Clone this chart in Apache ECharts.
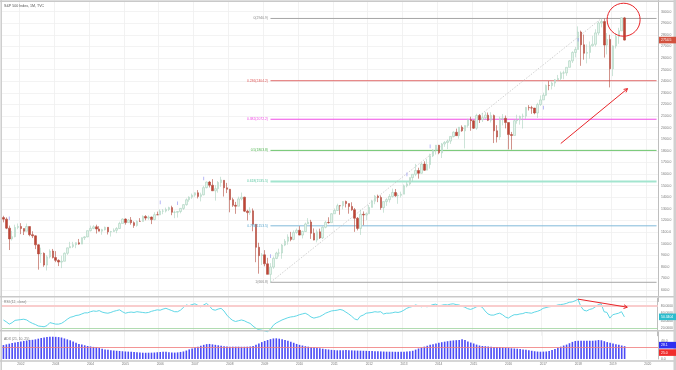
<!DOCTYPE html>
<html><head><meta charset="utf-8">
<script src="https://cdn.jsdelivr.net/npm/echarts@6/dist/echarts.min.js"></script>
<style>html,body{margin:0;padding:0;background:#fff}#c{width:676px;height:370px}</style>
</head><body><div id="c"></div>
<script>
// ---------- categories (monthly bars, Jul 2001 .. Apr 2020) ----------
const months = [];
for (let y = 2001; y <= 2020; y++) for (let m = 1; m <= 12; m++) {
  if ((y === 2001 && m < 7) || (y === 2020 && m > 4)) continue;
  months.push(y + '-' + (m < 10 ? '0' + m : m));
}
// ---------- S&P 500 monthly bars [open, high, low, close] ----------
const ohlc = [
[1224.4,1239.8,1183.5,1211.2],[1211.2,1226.3,1124.9,1133.6],[1133.6,1155.4,944.8,1040.9],[1040.9,1110.6,1026.8,1059.8],[1059.8,1163.4,1054.3,1139.5],[1139.5,1173.6,1124.0,1148.1],
[1148.1,1176.6,1081.7,1130.2],[1130.2,1130.2,1074.4,1106.7],[1106.7,1173.0,1106.7,1147.4],[1147.4,1147.8,1063.5,1076.9],[1076.9,1106.6,1048.0,1067.1],[1067.1,1070.7,952.9,989.8],[989.8,994.5,775.7,911.6],[911.6,965.0,833.4,916.1],[916.1,924.0,800.2,815.3],[815.3,900.1,768.6,885.8],[885.8,951.6,872.1,936.3],[936.3,954.3,872.2,879.8],
[879.8,935.1,840.3,855.7],[855.7,864.6,806.3,841.2],[841.2,895.9,788.9,848.2],[848.2,924.2,847.8,916.9],[916.9,965.4,902.8,963.6],[963.6,1015.3,963.6,974.5],[974.5,1015.4,962.1,990.3],[990.3,1011.0,960.8,1008.0],[1008.0,1040.3,990.4,996.0],[996.0,1053.8,996.0,1050.7],[1050.7,1063.7,1031.2,1058.2],[1058.2,1112.6,1055.5,1111.9],
[1111.9,1155.4,1105.1,1131.1],[1131.1,1158.9,1124.4,1144.9],[1144.9,1163.2,1087.2,1126.2],[1126.2,1150.6,1107.2,1107.3],[1107.3,1127.7,1076.3,1120.7],[1120.7,1146.3,1113.3,1140.8],[1140.8,1140.8,1078.8,1101.7],[1101.7,1109.7,1060.7,1104.2],[1104.2,1131.5,1101.3,1114.6],[1114.6,1142.1,1090.2,1130.2],[1130.2,1188.5,1127.6,1173.8],[1173.8,1217.9,1173.8,1211.9],
[1211.9,1217.8,1163.8,1181.3],[1181.3,1212.4,1180.0,1203.6],[1203.6,1229.1,1163.7,1180.6],[1180.6,1191.9,1136.2,1156.9],[1156.9,1199.6,1146.2,1191.5],[1191.5,1219.6,1188.3,1191.3],[1191.3,1243.7,1191.3,1234.2],[1234.2,1245.9,1201.1,1220.3],[1220.3,1243.1,1205.4,1228.8],[1228.8,1233.3,1168.2,1207.0],[1207.0,1270.6,1201.1,1249.5],[1249.5,1275.8,1246.6,1248.3],
[1248.3,1294.9,1245.7,1280.1],[1280.1,1297.6,1253.6,1280.7],[1280.7,1310.9,1268.4,1294.8],[1294.8,1318.2,1280.7,1310.6],[1310.6,1326.7,1245.3,1270.1],[1270.1,1284.6,1219.3,1270.2],[1270.2,1280.4,1224.5,1276.7],[1276.7,1306.8,1261.3,1303.8],[1303.8,1340.3,1290.9,1335.9],[1335.9,1389.5,1327.1,1377.9],[1377.9,1407.9,1360.9,1400.6],[1400.6,1431.8,1385.9,1418.3],
[1418.3,1441.6,1403.9,1438.2],[1438.2,1461.6,1389.4,1406.8],[1406.8,1438.9,1363.9,1420.9],[1420.9,1498.0,1416.4,1482.4],[1482.4,1535.6,1476.7,1530.6],[1530.6,1540.6,1484.2,1503.4],[1503.4,1555.9,1454.3,1455.3],[1455.3,1503.9,1370.6,1474.0],[1474.0,1538.7,1439.3,1526.8],[1526.8,1576.1,1489.6,1549.4],[1545.8,1545.8,1406.1,1481.1],[1481.1,1523.6,1435.7,1468.4],
[1468.4,1471.8,1270.1,1378.6],[1378.6,1396.0,1316.8,1330.6],[1330.6,1359.7,1256.9,1322.7],[1322.7,1404.6,1322.7,1385.6],[1385.6,1440.2,1373.1,1400.4],[1400.4,1404.1,1272.0,1280.0],[1280.0,1292.2,1200.4,1267.4],[1267.4,1313.2,1247.5,1282.8],[1282.8,1303.0,1106.4,1166.4],[1166.4,1167.0,839.8,968.8],[968.8,1007.5,741.0,896.2],[896.2,918.9,815.7,903.3],
[903.3,943.9,804.3,825.9],[825.9,877.9,734.5,735.1],[735.1,832.0,666.8,797.9],[797.9,888.7,783.3,872.8],[872.8,930.2,866.1,919.1],[919.1,956.2,888.9,919.3],[919.3,996.7,869.3,987.5],[987.5,1039.5,978.5,1020.6],[1020.6,1080.2,991.0,1057.1],[1057.1,1101.4,1020.2,1036.2],[1036.2,1113.7,1029.4,1095.6],[1095.6,1130.4,1085.9,1115.1],
[1115.1,1150.5,1071.6,1073.9],[1073.9,1112.4,1044.5,1104.5],[1104.5,1181.4,1101.4,1169.4],[1169.4,1219.8,1169.4,1186.7],[1186.7,1205.1,1040.8,1089.4],[1089.4,1131.2,1028.3,1030.7],[1030.7,1120.9,1010.9,1101.6],[1101.6,1129.2,1040.0,1049.3],[1049.3,1148.6,1039.7,1141.2],[1141.2,1196.1,1131.9,1183.3],[1183.3,1227.1,1173.0,1180.6],[1180.6,1262.6,1180.6,1257.6],
[1257.6,1302.7,1257.6,1286.1],[1286.1,1344.1,1282.9,1327.2],[1327.2,1332.3,1249.1,1325.8],[1325.8,1364.6,1294.7,1363.6],[1363.6,1370.6,1311.8,1345.2],[1345.2,1345.2,1258.1,1320.6],[1320.6,1356.5,1282.9,1292.3],[1292.3,1307.4,1101.5,1218.9],[1218.9,1229.3,1114.2,1131.4],[1131.4,1292.7,1074.8,1253.3],[1253.3,1277.6,1158.7,1247.0],[1247.0,1269.4,1202.4,1257.6],
[1257.6,1333.5,1257.6,1312.4],[1312.4,1378.0,1312.4,1365.7],[1365.7,1419.2,1340.0,1408.5],[1408.5,1422.4,1357.4,1397.9],[1397.9,1415.3,1291.9,1310.3],[1310.3,1363.5,1266.7,1362.2],[1362.2,1391.7,1325.4,1379.3],[1379.3,1426.7,1354.7,1406.6],[1406.6,1474.5,1396.6,1440.7],[1440.7,1470.9,1403.3,1412.2],[1412.2,1434.3,1343.4,1416.2],[1416.2,1448.0,1398.1,1426.2],
[1426.2,1509.9,1426.2,1498.1],[1498.1,1530.9,1485.0,1514.7],[1514.7,1570.3,1501.5,1569.2],[1569.2,1597.6,1536.0,1597.6],[1597.6,1687.2,1581.3,1630.7],[1630.7,1654.2,1560.3,1606.3],[1606.3,1698.8,1604.6,1685.7],[1685.7,1709.7,1627.5,1633.0],[1633.0,1729.9,1633.0,1681.6],[1681.6,1775.2,1646.5,1756.5],[1756.5,1813.6,1746.2,1805.8],[1805.8,1849.4,1767.9,1848.4],
[1848.4,1850.8,1770.5,1782.6],[1782.6,1867.9,1737.9,1859.5],[1859.5,1883.9,1834.4,1872.3],[1872.3,1897.3,1814.4,1884.0],[1884.0,1924.0,1859.8,1923.6],[1923.6,1968.2,1915.4,1960.2],[1960.2,1991.4,1930.7,1930.7],[1930.7,2005.0,1904.8,2003.4],[2003.4,2019.3,1964.0,1972.3],[1972.3,2018.2,1821.0,2018.1],[2018.1,2075.8,2001.0,2067.6],[2067.6,2093.6,1972.6,2058.9],
[2058.9,2064.4,1988.1,1995.0],[1995.0,2119.6,1980.9,2104.5],[2104.5,2117.5,2039.7,2067.9],[2067.9,2125.9,2048.4,2085.5],[2085.5,2134.7,2067.9,2107.4],[2107.4,2129.9,2056.3,2063.1],[2063.1,2132.8,2044.0,2103.8],[2103.8,2112.7,1867.0,1972.2],[1972.2,2020.9,1871.9,1920.0],[1920.0,2094.3,1893.7,2079.4],[2079.4,2116.5,2019.4,2080.4],[2080.4,2104.3,1993.3,2043.9],
[2043.9,2043.9,1812.3,1940.2],[1940.2,1962.9,1810.1,1932.2],[1932.2,2072.2,1932.2,2059.7],[2059.7,2111.1,2033.8,2065.3],[2065.3,2103.5,2025.9,2097.0],[2097.0,2120.6,1991.7,2098.9],[2098.9,2177.1,2074.0,2173.6],[2173.6,2193.8,2147.6,2171.0],[2171.0,2187.9,2119.1,2168.3],[2168.3,2169.6,2114.7,2126.2],[2126.2,2214.1,2083.8,2198.8],[2198.8,2277.5,2187.4,2238.8],
[2238.8,2301.0,2238.8,2278.9],[2278.9,2371.5,2271.7,2363.6],[2363.6,2401.0,2322.3,2362.7],[2362.7,2398.2,2328.9,2384.2],[2384.2,2418.7,2352.7,2411.8],[2411.8,2454.0,2405.7,2423.4],[2423.4,2484.0,2407.7,2470.3],[2470.3,2491.0,2417.4,2471.7],[2471.7,2519.4,2446.6,2519.4],[2519.4,2582.0,2519.4,2575.3],[2575.3,2657.7,2557.5,2647.6],[2647.6,2695.0,2605.5,2673.6],
[2673.6,2872.9,2673.6,2823.8],[2823.8,2835.9,2532.7,2713.8],[2713.8,2801.9,2585.9,2640.9],[2640.9,2717.5,2553.8,2648.1],[2648.1,2742.2,2594.6,2705.3],[2705.3,2791.5,2698.7,2718.4],[2718.4,2848.0,2698.9,2816.3],[2816.3,2916.5,2796.3,2901.5],[2901.5,2940.9,2864.1,2914.0],[2914.0,2939.9,2603.5,2711.7],[2711.7,2815.2,2631.1,2760.2],[2760.2,2800.2,2346.6,2506.9],
[2506.9,2708.0,2443.9,2704.1],[2704.1,2813.5,2681.8,2784.5],[2784.5,2860.3,2722.3,2834.4],[2834.4,2949.5,2834.4,2945.8],[2945.8,2954.1,2750.5,2754.5]
];
// ---------- RSI (12, close) ----------
const rsi = [42,37,31,35,41,42,43,44,42,37,33,30,26,25,24,27,35,33,31,31,33,38,44,49,51,54,55,58,61,61,
64,66,65,67,63,61,60,62,65,67,69,64,60,62,63,62,64,63,62,61,62,65,67,69,68,71,73,70,67,64,
64,68,75,82,80,83,85,81,77,82,86,79,70,68,71,73,66,55,47,41,38,40,42,40,36,33,26,20,16,15,
13,11,17,28,34,38,42,45,48,50,51,53,56,58,60,56,50,47,49,51,55,60,63,66,67,68,70,68,63,58,
52,45,42,52,55,60,61,62,64,63,64,58,60,60,61,63,62,64,68,73,76,78,82,80,77,79,77,80,83,84,
80,81,83,82,84,85,83,82,79,76,72,70,73,77,79,76,66,58,55,55,58,60,56,50,47,52,56,56,58,59,
62,61,60,63,65,68,73,75,77,78,79,82,83,84,86,89,90,93,97,78,68,66,70,72,77,83,85,64,62,47,
56,58,60,64,50.34];
// ---------- ADX ----------
const adx = [30.5,32,33.5,35,36,37.5,38.5,39.5,40.5,41.5,42,43,44.5,46,47,48,48.5,48.8,48.5,48,47,45,43,41,38.5,35.5,33,31.5,30,28.5,
27.5,26.5,25.5,24,22.5,21,20,19.2,18.6,18,17.5,17,16.5,16.2,16,15.4,14.8,14.2,13.8,13.7,13.8,13.9,14.2,14.8,15.4,15.8,16,15,14,14,
14.5,15.5,16.5,18.5,21,23,25,27,29,31,32.5,33,32,31,30,29,28,27.5,27,27,27,27,26.8,26.8,27,27.5,28.5,31,34,37,
39.5,41.5,43.5,45,45.3,44.5,43,41.5,40,38,35.5,33,31,29.5,28,27,26,25,24,23.4,22.5,21.5,20.8,20,19.5,19,19,19.3,19.5,19.2,
18.9,18.6,18.4,18.2,18,17.8,17.6,17.5,17.2,16.9,16.6,16.3,16.1,16,15.9,15.8,15.8,15.9,16,16.2,16.8,18,20.5,23,25,27,29,31,32.5,34,
35.5,36.8,38,39,40,40.7,41.2,41.6,43,41.5,38.5,36,34,31.5,29.5,28.5,28,27.3,26.8,26.4,26,25.5,25,24.5,24,23.5,23,22.5,22,21,
20,19,18,17,16.3,16,16.2,16.5,17.5,19.5,22,24.5,27,29.5,31.5,34.5,37.5,39.5,40,40,40,40,40,40,40.5,41.5,41,39,37,35.5,
34,32.5,31,29.5,28.1];
// ---------- event markers (month, price) ----------
const eventMonths = ['2001-09','2006-01','2006-07','2007-04','2009-03','2013-02','2013-10','2018-01','2017-01'];
const eventPrices = [1219,1356,1348,1562,892,1597,1838,2757,2172];
// ---------- Fibonacci retracement ----------
const fibRatios = ['0','0.236','0.382','0.5','0.618','0.786','1'];
const fibPrices = [2940.9,2404.2,2072.2,1803.8,1535.5,1153.5,666.8];
const fibColors = ['#a6a6a6','#e06a6a','#f04ce6','#6cc46c','#a3e5cf','#80b9d9','#a6a6a6'];
const fibLabelColors = ['#8a8a8a','#e05a5a','#ee44e2','#4fb44f','#5cc7a3','#5aa7cf','#8a8a8a'];
const fibWidths = [1,1,1,1,2,1,1];
const fibStart = '2009-03', fibEnd = '2020-04', swingHigh = '2018-09';
const lastPrice = 2754.5, lastRsi = 50.3404, lastAdx = 28.1, adxLevel = 25.0;
const rsiUpper = 80, rsiLower = 20;

const cdata = ohlc.map(r => [r[0], r[3], r[2], r[1]]);
const isJan = (i, v) => String(v).slice(5) === '01';
const FONT = 'Liberation Sans';
const txt = {fontFamily: FONT, fontSize: 3.4, color: '#777'};

const fibSeries = fibPrices.map((p, k) => ({
  type: 'line', xAxisIndex: 0, yAxisIndex: 0, symbol: 'none', silent: true, z: 3,
  data: [[fibStart, p], [fibEnd, p]],
  lineStyle: {color: fibColors[k], width: fibWidths[k], type: 'solid'}
}));
fibSeries.push({
  type: 'line', xAxisIndex: 0, yAxisIndex: 0, symbol: 'none', silent: true, z: 3,
  data: [[fibStart, fibPrices[6]], [swingHigh, fibPrices[0]]],
  lineStyle: {color: '#bdbdbd', width: 0.7, type: [1.5, 1.5]}
});

const chart = echarts.init(document.getElementById('c'), null, {renderer: 'canvas'});
const hideSplit = {show: false};
const option = {
  animation: false,
  backgroundColor: '#ffffff',
  grid: [
    {left: 2, right: 18, top: -0.94, bottom: 68.36},
    {left: 2, right: 18, top: 298.17, bottom: 34.22},
    {left: 2, right: 18, top: 331.6, bottom: 11}
  ],
  xAxis: [0, 1, 2].map(g => ({
    type: 'category', gridIndex: g, data: months, boundaryGap: true,
    axisLine: {show: false}, axisTick: {show: false},
    axisLabel: g === 2 ? {show: true, interval: isJan, formatter: v => v.slice(0, 4), fontFamily: FONT, fontSize: 3.2, color: '#777', margin: 3.5} : {show: false},
    splitLine: {show: true, interval: isJan, lineStyle: {color: '#efefef', width: 0.8}}
  })),
  yAxis: [
    {type: 'value', gridIndex: 0, position: 'right', min: 500, max: 3100, interval: 100,
     axisLine: {show: true, lineStyle: {color: '#b0b0b0', width: 0.8}}, axisTick: {show: false},
     axisLabel: {...txt, margin: 3, formatter: v => (v === 500 || v === 3100) ? '' : v.toFixed(1)},
     splitLine: {show: true, lineStyle: {color: '#f0f0f0', width: 0.8}}},
    {type: 'value', gridIndex: 1, position: 'right', min: 0, max: 100, interval: 20,
     axisLine: {show: true, lineStyle: {color: '#b0b0b0', width: 0.8}}, axisTick: {show: false},
     axisLabel: {...txt, margin: 3, formatter: v => (v === 0 || v === 100) ? '' : v.toFixed(4)},
     splitLine: hideSplit},
    {type: 'value', gridIndex: 2, position: 'right', min: 0, max: 60, interval: 20,
     axisLine: {show: true, lineStyle: {color: '#b0b0b0', width: 0.8}}, axisTick: {show: false},
     axisLabel: {...txt, margin: 3, formatter: v => (v === 0 || v === 40) ? v.toFixed(1) : ''},
     splitLine: hideSplit}
  ],
  series: [
    ...fibSeries,
    {type: 'candlestick', xAxisIndex: 0, yAxisIndex: 0, data: cdata, barWidth: 2, z: 5,
     itemStyle: {color: '#e4f3eb', color0: '#bf4535', borderColor: '#a9d2bd', borderColor0: '#b24a3d', borderWidth: 0.6}},
    {type: 'scatter', xAxisIndex: 0, yAxisIndex: 0, symbol: 'rect', symbolSize: [0.8, 3.6], silent: true, z: 6,
     itemStyle: {color: '#8f8ff2'},
     data: eventMonths.map((m, k) => [m, eventPrices[k]])},
    {type: 'line', xAxisIndex: 1, yAxisIndex: 1, data: rsi, symbol: 'none', clip: true,
     lineStyle: {color: '#4fd2e3', width: 0.9},
     markLine: {silent: true, symbol: ['none', 'none'], label: {show: false},
       data: [{yAxis: rsiUpper, lineStyle: {color: '#f9cdcd', width: 2, type: 'solid'}},
              {yAxis: rsiLower, lineStyle: {color: '#9dd39d', width: 0.8, type: 'solid'}}]}},
    {type: 'bar', xAxisIndex: 2, yAxisIndex: 2, data: adx, barWidth: 1.6,
     itemStyle: {color: '#4b4bf5'},
     markLine: {silent: true, symbol: ['none', 'none'], label: {show: false},
       data: [{yAxis: adxLevel, lineStyle: {color: '#f07a7a', width: 0.8, type: 'solid'}}]}}
  ]
};
chart.setOption(option);

// ----- overlay annotations / axis price tags -----
const P = (g, x, y) => chart.convertToPixel({gridIndex: g}, [x, y]);
const yPx = (axis, v) => chart.convertToPixel({yAxisIndex: axis}, v);
const tag = (y, bg, text) => ([
  {type: 'rect', shape: {x: 659, y: y - 3.3, width: 17, height: 6.6}, style: {fill: bg}, z: 50},
  {type: 'text', style: {x: 661, y: y, text: text, fill: '#fff', fontSize: 3.4, fontFamily: FONT, verticalAlign: 'middle'}, z: 51}
]);
const arrow = (a, b, color, w) => {
  const ang = Math.atan2(b[1] - a[1], b[0] - a[0]), L = 4;
  return [
    {type: 'line', shape: {x1: a[0], y1: a[1], x2: b[0], y2: b[1]}, style: {stroke: color, lineWidth: w}, z: 40},
    {type: 'polyline', shape: {points: [[b[0] - L * Math.cos(ang - 0.5), b[1] - L * Math.sin(ang - 0.5)], b, [b[0] - L * Math.cos(ang + 0.5), b[1] - L * Math.sin(ang + 0.5)]]},
     style: {stroke: color, lineWidth: w, fill: null}, z: 40}
  ];
};
const circC = P(0, 214, 2930);
const g = [];
[[0, 1.2, 676, 1.2], [0, 296.7, 676, 296.7], [0, 330.8, 676, 330.8], [0, 361, 676, 361]].forEach(l =>
  g.push({type: 'line', shape: {x1: l[0], y1: l[1], x2: l[2], y2: l[3]}, style: {stroke: '#c9c9c9', lineWidth: 1.4}, z: 30}));
g.push({type: 'line', shape: {x1: 1.2, y1: 0, x2: 1.2, y2: 370}, style: {stroke: '#c9c9c9', lineWidth: 1.4}, z: 30});
g.push({type: 'rect', shape: {x: 673.5, y: 0, width: 2.5, height: 370}, style: {fill: '#d0d0d0'}, z: 30});
g.push({type: 'text', style: {x: 4, y: 5.5, text: 'S&P 500 Index, 1M, TVC', fill: '#555', fontSize: 3.6, fontFamily: FONT, verticalAlign: 'middle'}, z: 31});
g.push({type: 'text', style: {x: 4, y: 302, text: 'RSI (12, close)', fill: '#777', fontSize: 3.4, fontFamily: FONT, verticalAlign: 'middle'}, z: 31});
g.push({type: 'text', style: {x: 4, y: 338.6, text: 'ADX (21, 10, 25)', fill: '#777', fontSize: 3.4, fontFamily: FONT, verticalAlign: 'middle'}, z: 31});
// fib level labels, right-aligned just left of the swing-low bar
fibPrices.forEach((p, k) => {
  const pt = P(0, fibStart, p);
  g.push({type: 'text', style: {x: pt[0] - 2.5, y: pt[1], text: fibRatios[k] + '(' + p.toFixed(1) + ')', fill: fibLabelColors[k],
    fontSize: 3.4, fontFamily: FONT, align: 'right', verticalAlign: 'middle'}, z: 31});
});
g.push(...tag(yPx(0, lastPrice), '#d2523f', lastPrice.toFixed(1)));
g.push(...tag(yPx(1, lastRsi), '#2cbccd', lastRsi.toFixed(4)));
g.push(...tag(yPx(2, lastAdx) - 1, '#2f2ff0', lastAdx.toFixed(1)));
g.push(...tag(yPx(2, adxLevel) + 5, '#f02c2c', adxLevel.toFixed(1)));
g.push({type: 'circle', shape: {cx: circC[0] - 1, cy: circC[1], r: 16.5}, style: {stroke: '#e8262a', lineWidth: 1, fill: null}, z: 40});
g.push(...arrow(P(0, 192, 1863), P(0, 215, 2336), '#e8262a', 1));
g.push(...arrow(P(1, 198, 97.5), P(1, 215, 76), '#e8262a', 1));
chart.setOption({graphic: g});
</script></body></html>
